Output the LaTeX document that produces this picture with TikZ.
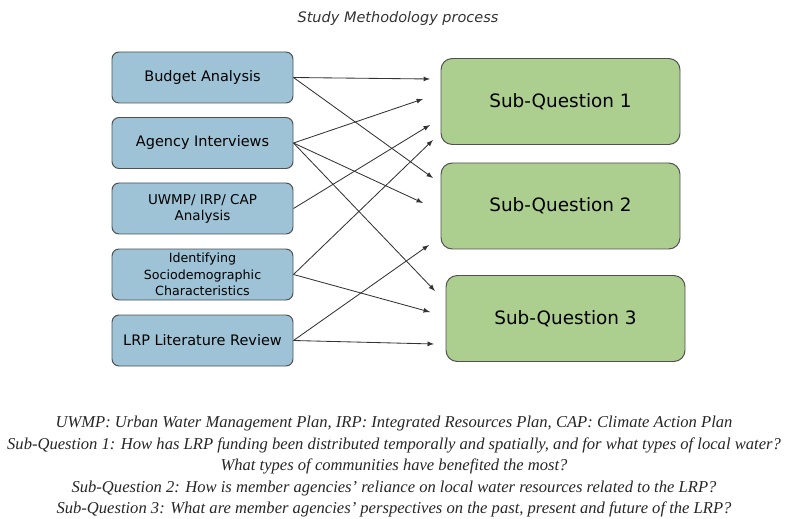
\documentclass[tikz,border=0pt]{standalone}
\usepackage{fontspec}
\setmainfont{DejaVu Sans}
\newfontfamily\notefont{Liberation Serif}
\definecolor{methodblue}{RGB}{158,195,214}
\definecolor{questiongreen}{RGB}{172,206,143}
\definecolor{boxline}{RGB}{80,80,80}
\tikzset{
  method/.style={draw=boxline, fill=methodblue, rounded corners=5pt, line width=0.7pt,
    minimum width=4.525cm, minimum height=1.275cm, align=center, inner sep=1pt,
    font=\fontsize{10.3}{12}\selectfont},
  question/.style={draw=boxline, fill=questiongreen, rounded corners=8pt, line width=0.7pt,
    minimum width=5.975cm, minimum height=2.15cm, font=\fontsize{13.1}{15}\selectfont},
  link/.style={-latex, line width=0.6pt, draw=black!80}
}

\begin{document}
\begin{tikzpicture}
    \useasboundingbox (0,0) rectangle (19.675,12.95);
    \node[font=\itshape\fontsize{10.3}{12}\selectfont, text=black!80] (title) at (9.95,12.48) {Study Methodology process};
    % inputs on the left
    \node[method] (budget) at (5.0625,11.0125) {Budget Analysis};
    \node[method] (agency) at (5.0625,9.375) {Agency Interviews};
    \node[method, font=\fontsize{9.6}{11.5}\selectfont] (uwmp) at (5.0625,7.7375) {UWMP/ IRP/ CAP\\Analysis};
    \node[method, font=\fontsize{9}{11.7}\selectfont] (socio) at (5.0625,6.0875) {Identifying\\Sociodemographic\\Characteristics};
    \node[method] (review) at (5.0625,4.4375) {LRP Literature Review};
    % sub-questions on the right
    \node[question] (sq1) at (14.0125,10.4125) {Sub-Question 1};
    \node[question] (sq2) at (14.0125,7.8) {Sub-Question 2};
    \node[question] (sq3) at (14.1375,4.9875) {Sub-Question 3};
    % arrow ends, short of the boxes
    \coordinate (b1) at (10.75,10.975);
    \coordinate (b2) at (10.825,8.5);
    \coordinate (a1) at (10.575,10.475);
    \coordinate (a2) at (10.575,7.875);
    \coordinate (a3) at (10.875,5.675);
    \coordinate (u1) at (10.75,9.825);
    \coordinate (i1) at (10.825,9.45);
    \coordinate (i2) at (10.75,5.15);
    \coordinate (l1) at (10.725,6.825);
    \coordinate (l2) at (10.85,4.35);
    \draw[link] (budget.east) -- (b1);
    \draw[link] (budget.east) -- (b2);
    \draw[link] (agency.east) -- (a1);
    \draw[link] (agency.east) -- (a2);
    \draw[link] (agency.east) -- (a3);
    \draw[link] (uwmp.east) -- (u1);
    \draw[link] (socio.east) -- (i1);
    \draw[link] (socio.east) -- (i2);
    \draw[link] (review.east) -- (l1);
    \draw[link] (review.east) -- (l2);
    % notes
    \node[anchor=north, align=center, inner sep=0pt, text=black!85,
      font=\notefont\itshape\fontsize{11.8}{15.3}\selectfont] (notes) at (9.85,2.55)
      {UWMP: Urban Water Management Plan, IRP: Integrated Resources Plan, CAP: Climate Action Plan\\
       Sub-Question 1: How has LRP funding been distributed temporally and spatially, and for what types of local water?\\
       What types of communities have benefited the most?\\
       Sub-Question 2: How is member agencies’ reliance on local water resources related to the LRP?\\
       Sub-Question 3: What are member agencies’ perspectives on the past, present and future of the LRP?};
\end{tikzpicture}
\end{document}
